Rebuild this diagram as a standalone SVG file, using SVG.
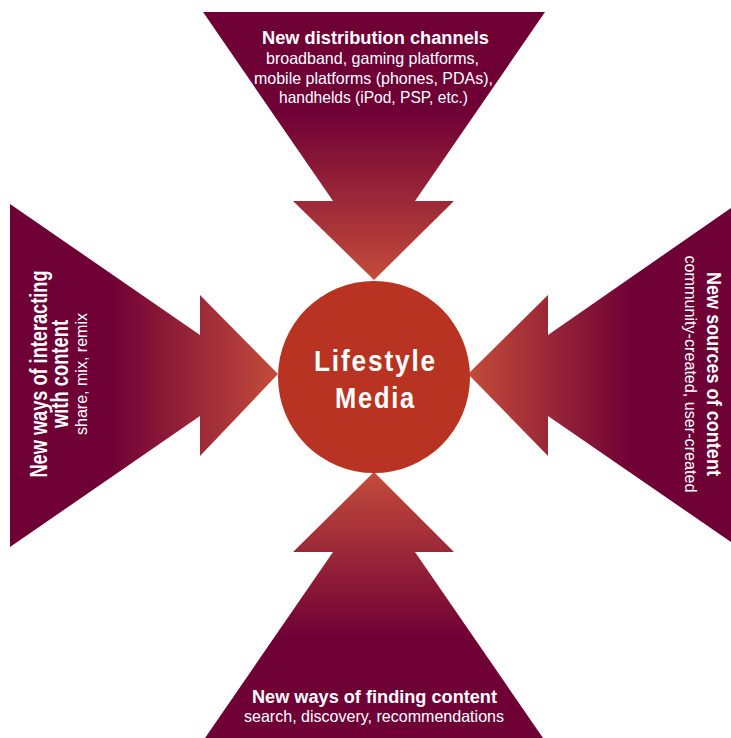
<svg xmlns="http://www.w3.org/2000/svg" width="731" height="738" viewBox="0 0 731 738">
<defs>
<style>
.h{font-family:"Liberation Sans",Arial,sans-serif;font-weight:bold;fill:#fff;text-anchor:middle}
.s{font-family:"Liberation Sans",Arial,sans-serif;fill:#fff;text-anchor:middle}
</style>
<linearGradient id="gTop" gradientUnits="userSpaceOnUse" x1="0" y1="12" x2="0" y2="280">
<stop offset="0" stop-color="#6e0036"/><stop offset="0.37" stop-color="#6e0036"/><stop offset="1" stop-color="#c44c3a"/>
</linearGradient>
<linearGradient id="gBot" gradientUnits="userSpaceOnUse" x1="0" y1="738" x2="0" y2="472">
<stop offset="0" stop-color="#6e0036"/><stop offset="0.37" stop-color="#6e0036"/><stop offset="1" stop-color="#c44c3a"/>
</linearGradient>
<linearGradient id="gLeft" gradientUnits="userSpaceOnUse" x1="10" y1="0" x2="278" y2="0">
<stop offset="0" stop-color="#6e0036"/><stop offset="0.37" stop-color="#6e0036"/><stop offset="1" stop-color="#c44c3a"/>
</linearGradient>
<linearGradient id="gRight" gradientUnits="userSpaceOnUse" x1="731" y1="0" x2="468" y2="0">
<stop offset="0" stop-color="#6e0036"/><stop offset="0.37" stop-color="#6e0036"/><stop offset="1" stop-color="#c44c3a"/>
</linearGradient>
</defs>
<rect width="731" height="738" fill="#fff"/>
<g id="connectors"/>
<g id="arrow-top">
<polygon points="203,12 545,12 415,201 454,201 374,280 293,201 333,201" fill="url(#gTop)"/>
<text class="h" x="375.5" y="44" font-size="18" textLength="227" lengthAdjust="spacingAndGlyphs">New distribution channels</text>
<text class="s" x="372.5" y="64" font-size="16.5" textLength="213" lengthAdjust="spacingAndGlyphs">broadband, gaming platforms,</text>
<text class="s" x="373.5" y="83.5" font-size="16.5" textLength="239" lengthAdjust="spacingAndGlyphs">mobile platforms (phones, PDAs),</text>
<text class="s" x="373.5" y="103" font-size="16.5" textLength="189" lengthAdjust="spacingAndGlyphs">handhelds (iPod, PSP, etc.)</text>
</g>
<g id="arrow-left">
<polygon points="10,204 200,335 200,295 278,374 200,456 200,416 10,547" fill="url(#gLeft)"/>
<g transform="translate(47,374) rotate(-90)">
<text class="h" x="0" y="0" font-size="23" textLength="207" lengthAdjust="spacingAndGlyphs">New ways of interacting</text>
<text class="h" x="0" y="21" font-size="23" textLength="108" lengthAdjust="spacingAndGlyphs">with content</text>
<text class="s" x="0" y="40" font-size="16.5" textLength="122" lengthAdjust="spacingAndGlyphs">share, mix, remix</text>
</g>
</g>
<g id="arrow-right">
<polygon points="731,208 548,335 548,295 468,374 548,456 548,416 731,542" fill="url(#gRight)"/>
<g transform="translate(707,374) rotate(90)">
<text class="h" x="0" y="0" font-size="21" textLength="204" lengthAdjust="spacingAndGlyphs">New sources of content</text>
<text class="s" x="0" y="22" font-size="16.5" textLength="237" lengthAdjust="spacingAndGlyphs">community-created, user-created</text>
</g>
</g>
<g id="arrow-bottom">
<polygon points="374,472 454,552 415,552 543,738 205,738 333,552 293,552" fill="url(#gBot)"/>
<text class="h" x="374.5" y="703" font-size="18.5" textLength="245" lengthAdjust="spacingAndGlyphs">New ways of finding content</text>
<text class="s" x="374" y="722" font-size="16.5" textLength="260" lengthAdjust="spacingAndGlyphs">search, discovery, recommendations</text>
</g>
<g id="lifestyle-media">
<circle cx="374" cy="377" r="96" fill="#b93322"/>
<text class="h" x="375.5" y="371" font-size="29" letter-spacing="2" textLength="123" lengthAdjust="spacingAndGlyphs">Lifestyle</text>
<text class="h" x="375.5" y="408" font-size="29" letter-spacing="2" textLength="81" lengthAdjust="spacingAndGlyphs">Media</text>
</g>
</svg>
